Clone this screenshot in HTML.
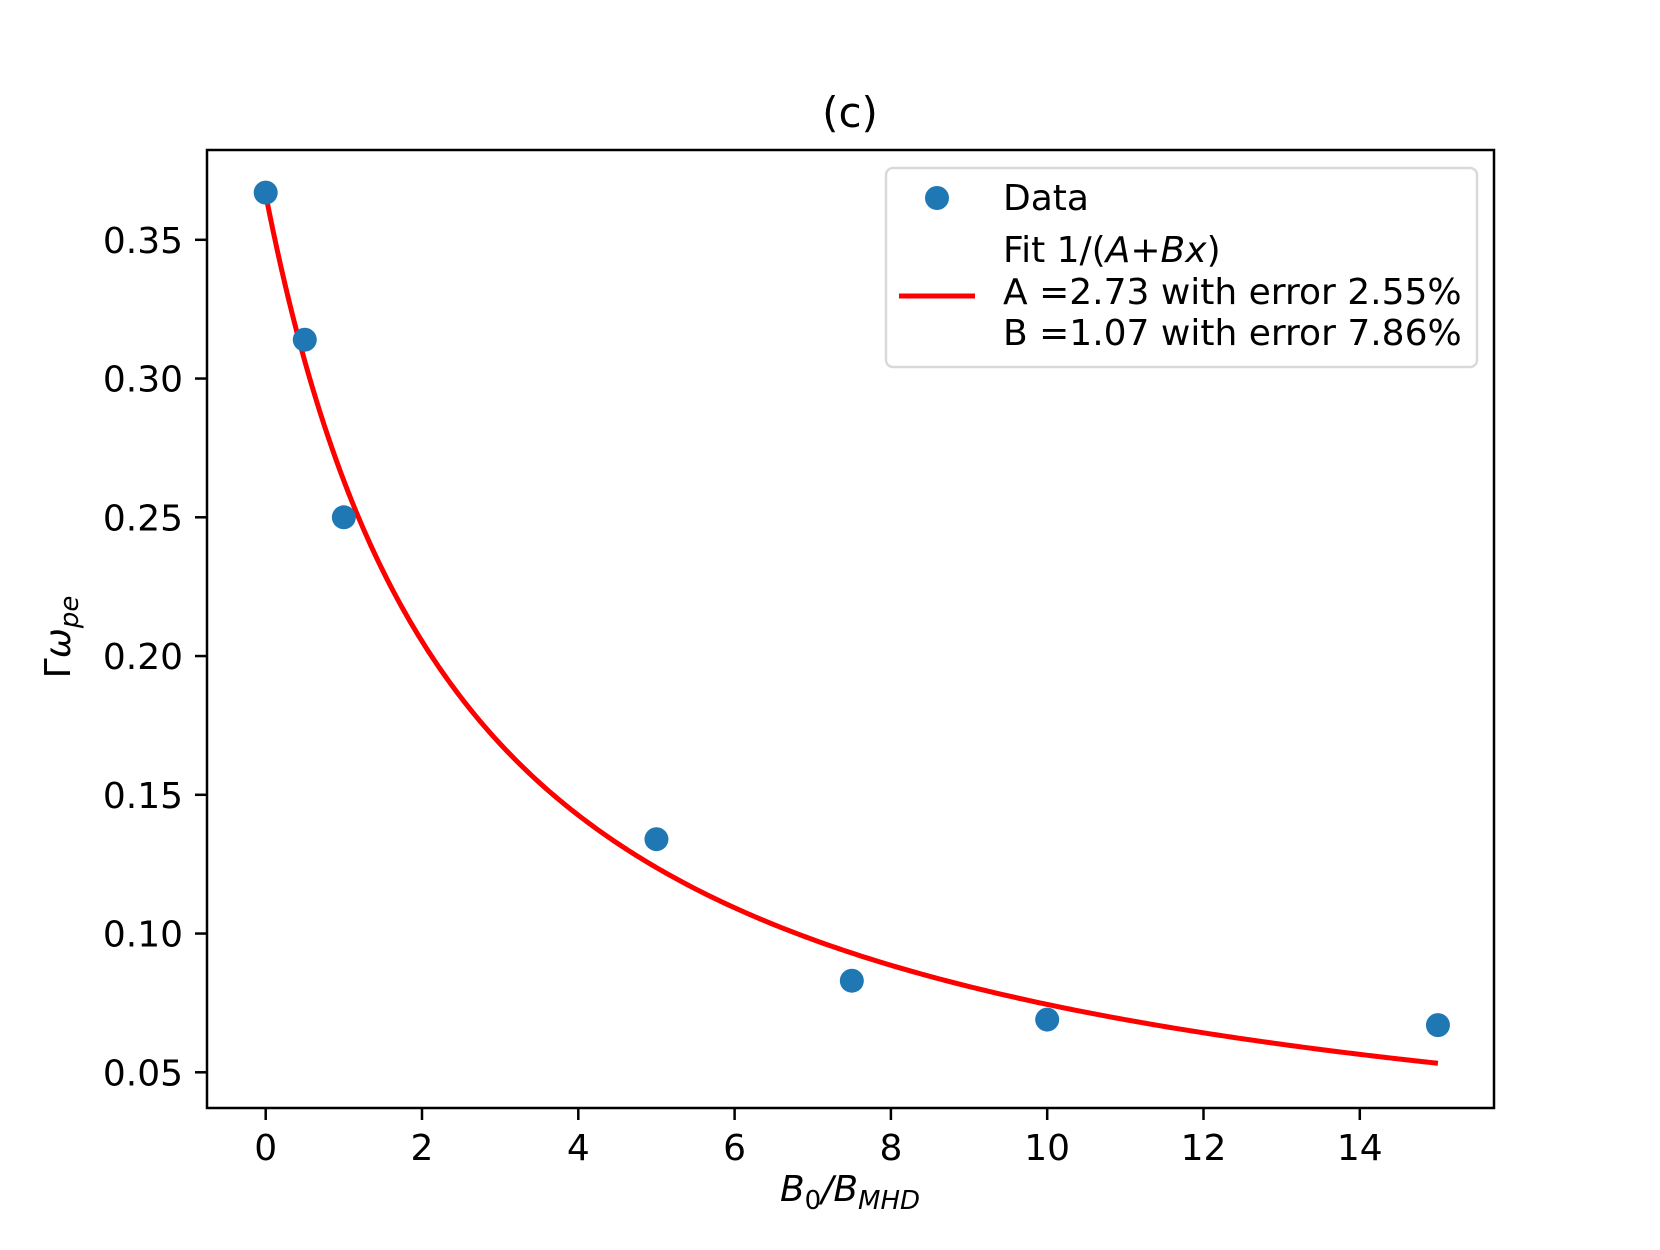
<!DOCTYPE html>
<html><head><meta charset="utf-8"><style>
body{margin:0;background:#fff}
svg text{font-family:"DejaVu Sans","Liberation Sans",sans-serif;fill:#000}
</style></head><body>
<svg id="chart" width="1660" height="1245" viewBox="0 0 1660 1245" xmlns="http://www.w3.org/2000/svg">
<rect width="1660" height="1245" fill="#fff"/>
<g id="marks"></g>
<rect x="207" y="150" width="1287" height="958" fill="none" stroke="#000" stroke-width="2.5"/>
<g id="ticks"></g>
<text x="850" y="127" font-size="42" text-anchor="middle">(c)</text>
<text x="850" y="1201" font-size="36" text-anchor="middle" font-style="italic">B<tspan font-size="26" dy="8" font-style="normal">0</tspan><tspan dy="-8">/B</tspan><tspan font-size="26" dy="8">MHD</tspan></text>
<text transform="translate(70,637) rotate(-90)" font-size="36" text-anchor="middle">Γ<tspan font-style="italic">ω</tspan><tspan font-size="26" dy="8" font-style="italic">pe</tspan></text>
<g>
<rect x="886" y="168" width="591" height="199" rx="7" fill="#fff" fill-opacity="0.8" stroke="#d9d9d9" stroke-width="2.5"/>
<circle cx="937" cy="198" r="12" fill="#1f77b4"/>
<text x="1003" y="210" font-size="36">Data</text>
<line x1="899" y1="296" x2="975" y2="296" stroke="#ff0000" stroke-width="5"/>
<text font-size="36">
<tspan x="1003" y="262">Fit 1/(<tspan font-style="italic">A</tspan>+<tspan font-style="italic">Bx</tspan>)</tspan>
<tspan x="1003" y="304">A =2.73 with error 2.55%</tspan>
<tspan x="1003" y="345">B =1.07 with error 7.86%</tspan>
</text>
</g>
</svg>
<script>
const dataX=[0,0.5,1,5,7.5,10,15];
const dataY=[0.367,0.314,0.250,0.134,0.083,0.069,0.067];
const fitA=[2.73];
const fitB=[1.07];
const xTicks=[0,2,4,6,8,10,12,14];
const yTicks=[0.05,0.10,0.15,0.20,0.25,0.30,0.35];
const yTickLabels=["0.05","0.10","0.15","0.20","0.25","0.30","0.35"];
const NS="http://www.w3.org/2000/svg";
function sx(v){return 265.7+v*78.15;}
function sy(v){return 1072.3-(v-0.05)*2775;}
const marks=document.getElementById('marks');
const ticks=document.getElementById('ticks');
let d="";
for(let i=0;i<=300;i++){const x=15*i/300;const y=1/(fitA[0]+fitB[0]*x);d+=(i?"L":"M")+sx(x).toFixed(2)+","+sy(y).toFixed(2);}
const p=document.createElementNS(NS,'path');
p.setAttribute('d',d);p.setAttribute('fill','none');p.setAttribute('stroke','#ff0000');p.setAttribute('stroke-width','5');


marks.appendChild(p);
dataX.forEach((x,i)=>{const c=document.createElementNS(NS,'circle');
c.setAttribute('cx',sx(x));c.setAttribute('cy',sy(dataY[i]));c.setAttribute('r','12');c.setAttribute('fill','#1f77b4');


marks.appendChild(c);});
xTicks.forEach(t=>{const l=document.createElementNS(NS,'line');
l.setAttribute('x1',sx(t));l.setAttribute('x2',sx(t));l.setAttribute('y1',1108);l.setAttribute('y2',1120);l.setAttribute('stroke','#000');l.setAttribute('stroke-width','2.5');


ticks.appendChild(l);
const tx=document.createElementNS(NS,'text');tx.setAttribute('x',sx(t));tx.setAttribute('y',1160);tx.setAttribute('font-size','36');tx.setAttribute('text-anchor','middle');tx.textContent=String(t);


ticks.appendChild(tx);});
yTicks.forEach((t,i)=>{const l=document.createElementNS(NS,'line');
l.setAttribute('x1',195);l.setAttribute('x2',207);l.setAttribute('y1',sy(t));l.setAttribute('y2',sy(t));l.setAttribute('stroke','#000');l.setAttribute('stroke-width','2.5');


ticks.appendChild(l);
const tx=document.createElementNS(NS,'text');tx.setAttribute('x',183);tx.setAttribute('y',sy(t)+13);tx.setAttribute('font-size','36');tx.setAttribute('text-anchor','end');tx.textContent=yTickLabels[i];


ticks.appendChild(tx);});
</script>
</body></html>
